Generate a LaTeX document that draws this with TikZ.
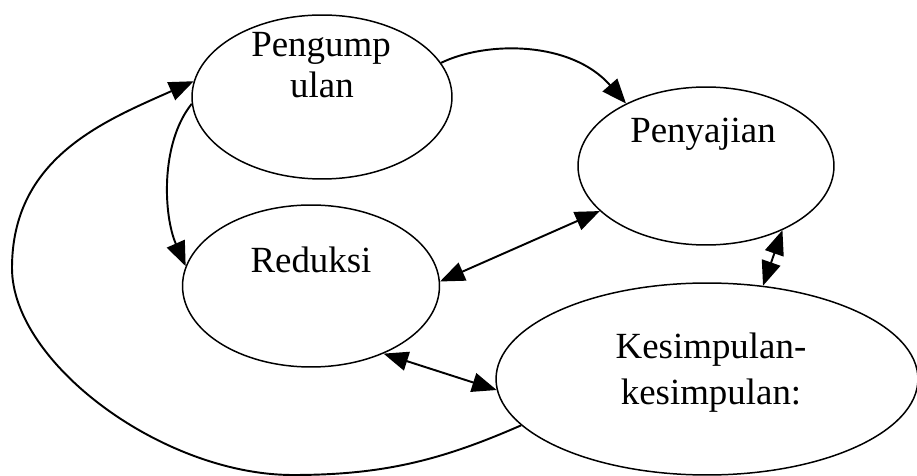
\documentclass[tikz,border=0pt]{standalone}
\usepackage{fontspec}
\setmainfont{Liberation Serif}
\usetikzlibrary{arrows.meta,shapes.geometric}

\begin{document}
\begin{tikzpicture}[x=0.02cm,y=-0.02cm,
  stage/.style={draw,ellipse,inner sep=0pt,line width=0.85pt},
  stagetext/.style={font=\fontsize{21}{24}\selectfont,anchor=base,align=center,inner sep=0pt},
  tip/.tip={Triangle[length=14pt,width=11pt]},
  link/.style={-tip,line width=1.1pt},
  twoway/.style={tip-tip,line width=1.1pt}]
\useasboundingbox (0,0) rectangle (917,476);
% the four stages
\node (peng) at (322,97)  [stage,minimum width=5.2cm,minimum height=3.28cm] {};
\node (peny) at (706,166) [stage,minimum width=5.12cm,minimum height=3.16cm] {};
\node (red)  at (311,286) [stage,minimum width=5.14cm,minimum height=3.24cm] {};
\node (kes)  at (707,379) [stage,minimum width=8.44cm,minimum height=3.84cm] {};
\node (peng-txt) at (321,57)  [stagetext] {Pengump};
\node (peng-txt2) at (322,98) [stagetext] {ulan};
\node (peny-txt) at (703,143) [stagetext] {Penyajian};
\node (red-txt)  at (311,273) [stagetext] {Reduksi};
\node (kes-txt)  at (711,359) [stagetext] {Kesimpulan-};
\node (kes-txt2) at (711,405) [stagetext] {kesimpulan:};
% connectors
\draw [link] (peng.16) .. controls +(45,-22) and +(-55,-63) .. (peny.142);
\draw [link] (peng.183) .. controls +(-32,40) and +(-22,-50) .. (red.171);
\draw [twoway] (red.2) -- (peny.203);
\draw [twoway] (peny.320) -- (kes.59);
\draw [twoway] (red.317) -- (kes.183);
\draw [link] (kes.194) .. controls +(-80,35) and +(90,0) .. (293,475)
  .. controls +(-130,0) and +(0,95) .. (12,268)
  .. controls +(0,-110) and +(-90,40) .. (peng.173);
\end{tikzpicture}
\end{document}
